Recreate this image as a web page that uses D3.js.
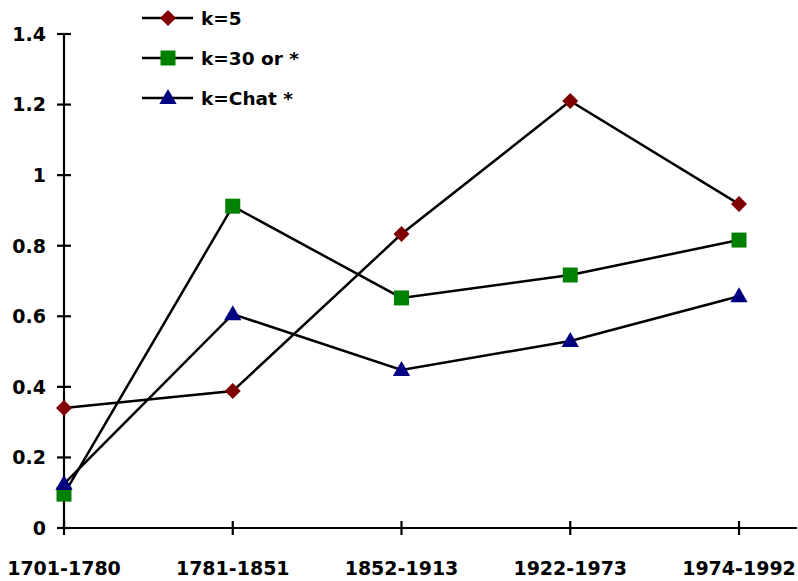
<!DOCTYPE html>
<html><head><meta charset="utf-8">
<script src="https://cdn.jsdelivr.net/npm/d3@7"></script>
<style>body{margin:0;background:#fff}svg{display:block}text{font-family:"DejaVu Sans",sans-serif;font-weight:bold;fill:#000}</style>
</head><body>
<svg id="c" width="798" height="581"></svg>
<script>
const categories = ["1701-1780","1781-1851","1852-1913","1922-1973","1974-1992"];
const k5 = [0.34, 0.388, 0.833, 1.21, 0.918];
const k30 = [0.096, 0.912, 0.652, 0.717, 0.816];
const kChat = [0.125, 0.606, 0.448, 0.53, 0.657];
const yTicks = [0, 0.2, 0.4, 0.6, 0.8, 1, 1.2, 1.4];
const seriesNames = ["k=5", "k=30 or *", "k=Chat *"];

const series = [
  {name: seriesNames[0], values: k5, color: "#800000", shape: d3.symbolSquare, size: 128, rot: 45, dy: 0},
  {name: seriesNames[1], values: k30, color: "#008000", shape: d3.symbolSquare, size: 225, rot: 0, dy: 0},
  {name: seriesNames[2], values: kChat, color: "#000080", shape: d3.symbolTriangle, size: 130, rot: 0, dy: 1}
];

const svg = d3.select("#c");
const x = d3.scalePoint().domain(categories).range([64, 739]);
const y = d3.scaleLinear().domain([0, 1.4]).range([528, 34]);

// y axis
svg.append("line").attr("x1",64).attr("x2",64).attr("y1",y(1.4)).attr("y2",y(0)).attr("stroke","#000").attr("stroke-width",2.2);
svg.selectAll(".yt").data(yTicks).enter().append("line")
  .attr("x1",57).attr("x2",71).attr("y1",d=>y(d)).attr("y2",d=>y(d)).attr("stroke","#000").attr("stroke-width",2.2);
svg.selectAll(".yl").data(yTicks).enter().append("text")
  .attr("x",46).attr("y",d=>y(d)).attr("dy","0.36em").attr("text-anchor","end").attr("font-size",19)
  .text(d=>String(+d.toFixed(1)));
// x axis
svg.append("line").attr("x1",64).attr("x2",797).attr("y1",y(0)).attr("y2",y(0)).attr("stroke","#000").attr("stroke-width",2.2);
svg.selectAll(".xt").data(categories).enter().append("line")
  .attr("x1",d=>x(d)).attr("x2",d=>x(d)).attr("y1",y(0)-7).attr("y2",y(0)+7).attr("stroke","#000").attr("stroke-width",2.2);
svg.selectAll(".xl").data(categories).enter().append("text")
  .attr("x",d=>x(d)).attr("y",575).attr("text-anchor","middle").attr("font-size",19).text(d=>d);

const line = d3.line().x((d,i)=>x(categories[i])).y(d=>y(d));
series.forEach(s=>{
  svg.append("path").attr("d",line(s.values)).attr("fill","none").attr("stroke","#000").attr("stroke-width",2.5);
  svg.selectAll(null).data(s.values).enter().append("path")
    .attr("d", d3.symbol().type(s.shape).size(s.size))
    .attr("transform",(d,i)=>`translate(${x(categories[i])},${y(d) + s.dy}) rotate(${s.rot})`)
    .attr("fill",s.color);
});

// legend
series.forEach((s,i)=>{
  const ly = 18 + i*40;
  svg.append("line").attr("x1",142).attr("x2",193).attr("y1",ly).attr("y2",ly).attr("stroke","#000").attr("stroke-width",2.5);
  svg.append("path").attr("d", d3.symbol().type(s.shape).size(s.size))
    .attr("transform",`translate(168,${ly + s.dy}) rotate(${s.rot})`).attr("fill",s.color);
  svg.append("text").attr("x",201).attr("y",ly).attr("dy","0.36em").attr("font-size",18.5).text(s.name);
});
</script>
</body></html>
